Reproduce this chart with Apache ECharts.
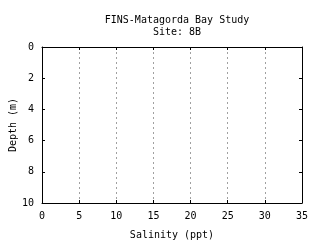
<!DOCTYPE html>
<html><head><meta charset="utf-8">
<script src="https://cdn.jsdelivr.net/npm/echarts@6/dist/echarts.min.js"></script>
<style>html,body{margin:0;padding:0;background:#fff}#c{width:320px;height:240px}</style>
</head><body><div id="c"></div>
<script>
var titleLines = ["FINS-Matagorda Bay Study", "Site: 8B"];
var xName = "Salinity (ppt)";
var yName = "Depth (m)";
var xRange = [0, 35];
var xStep = 5;
var yRange = [0, 10];
var yStep = 2;
var salinity = [];
var depth = [];

var FONT = "DejaVu Sans Mono";
var pts = salinity.map(function(s, i){ return [s, depth[i]]; });
var chart = echarts.init(document.getElementById('c'), null, {renderer:'canvas'});
var axisCommon = {
  axisLine:{show:true, onZero:false, lineStyle:{color:'#000', width:1}},
  axisTick:{show:true, inside:true, length:3, lineStyle:{color:'#000'}},
  axisLabel:{color:'#000', fontFamily:FONT, fontSize:10}
};
chart.setOption({
  animation:false,
  backgroundColor:'#fff',
  title:{text:titleLines.join('\n'), left:172, top:9, textAlign:'center',
    textStyle:{fontFamily:FONT, fontSize:10, fontWeight:'normal', color:'#000', lineHeight:12}},
  grid:{left:42, right:18, top:47, bottom:37, containLabel:false, outerBoundsMode:'none'},
  xAxis:[
    Object.assign({}, axisCommon, {type:'value', min:xRange[0], max:xRange[1], interval:xStep, position:'bottom',
      name:xName, nameLocation:'middle', nameGap:27, nameMoveOverlap:false,
      nameTextStyle:{fontFamily:FONT, fontSize:10, color:'#000'},
      axisLabel:{color:'#000', fontFamily:FONT, fontSize:10, margin:8},
      splitLine:{show:true, lineStyle:{color:'#a0a0a0', type:[2,3], width:1}}}),
    Object.assign({}, axisCommon, {type:'value', min:xRange[0], max:xRange[1], interval:xStep, position:'top',
      axisLabel:{show:false}, splitLine:{show:false}})
  ],
  yAxis:[
    Object.assign({}, axisCommon, {type:'value', inverse:true, min:yRange[0], max:yRange[1], interval:yStep, position:'left',
      name:yName, nameLocation:'middle', nameGap:24, nameMoveOverlap:false,
      nameTextStyle:{fontFamily:FONT, fontSize:10, color:'#000'},
      axisLabel:{color:'#000', fontFamily:FONT, fontSize:10, margin:8},
      splitLine:{show:false}}),
    Object.assign({}, axisCommon, {type:'value', inverse:true, min:yRange[0], max:yRange[1], interval:yStep, position:'right',
      axisLabel:{show:false}, splitLine:{show:false}})
  ],
  series:[{type:'line', xAxisIndex:0, yAxisIndex:0, data:pts, symbol:'none', lineStyle:{color:'#ff0000', width:1}}]
});
</script></body></html>
